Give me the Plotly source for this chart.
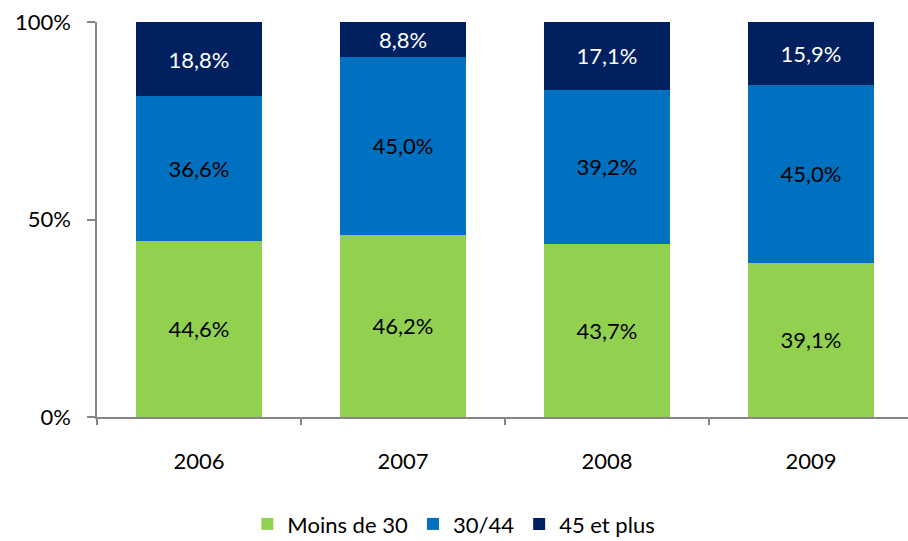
import plotly.graph_objects as go

years = ["2006", "2007", "2008", "2009"]
moins_30 = [44.6, 46.2, 43.7, 39.1]
de_30_44 = [36.6, 45.0, 39.2, 45.0]
plus_45 = [18.8, 8.8, 17.1, 15.9]
series_names = ["Moins de 30", "30/44", "45 et plus"]
y_ticks = [0, 50, 100]
y_tick_labels = ["0%", "50%", "100%"]

FONT = "Lato"
FS = 22
colors = ["#92D050", "#0070C0", "#002060"]
text_colors = ["#000000", "#000000", "#FFFFFF"]

fig = go.Figure()
for name, vals, c, tc in zip(series_names, [moins_30, de_30_44, plus_45], colors, text_colors):
    fig.add_trace(go.Bar(
        x=years, y=vals, name=name,
        marker=dict(color=c, line=dict(width=0)),
        texttemplate="%{y:.1f}%", textposition="inside", insidetextanchor="middle",
        textangle=0, textfont=dict(color=tc, size=FS, family=FONT),
        hoverinfo="skip",
    ))

fig.update_layout(
    width=908, height=541,
    barmode="stack", bargap=0.382,
    separators=", ",
    margin=dict(l=97, r=0, t=22, b=124, autoexpand=False),
    plot_bgcolor="white", paper_bgcolor="white",
    font=dict(family=FONT, size=FS, color="#000000"),
    showlegend=True,
    legend=dict(orientation="h", x=0.44, xanchor="center", y=-0.218, yanchor="top",
                traceorder="normal",
                font=dict(size=FS, family=FONT), itemwidth=30, tracegroupgap=0),
    xaxis=dict(type="category", range=[-0.5, -0.5 + 811 / 204], tickson="boundaries",
               ticks="outside", ticklen=6, tickwidth=1.5, tickcolor="#868686",
               ticklabelstandoff=24,
               showline=True, linecolor="#868686", linewidth=1.5, automargin=False,
               showgrid=False, tickfont=dict(size=FS, family=FONT), fixedrange=True),
    yaxis=dict(range=[0, 100], tickmode="array", tickvals=y_ticks, ticktext=y_tick_labels,
               ticks="outside", ticklen=8, tickwidth=1.5, tickcolor="#868686",
               ticklabelstandoff=12,
               showline=True, linecolor="#868686", linewidth=1.5, automargin=False,
               showgrid=False, zeroline=False, tickfont=dict(size=FS, family=FONT)),
)
fig.write_html("out.html", config={"displayModeBar": False},
               post_script="document.body.style.margin='0';document.body.style.overflow='hidden';")
